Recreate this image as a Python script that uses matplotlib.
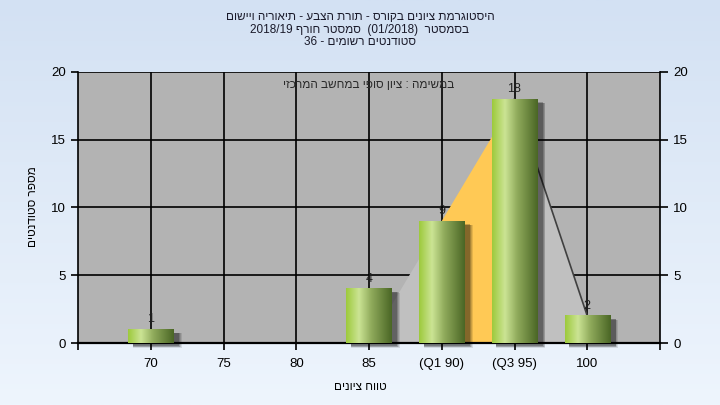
import re
import numpy as np
import matplotlib
matplotlib.use("Agg")
import matplotlib.pyplot as plt
from matplotlib.patches import Rectangle, Polygon
from matplotlib.colors import LinearSegmentedColormap

plt.rcParams['font.family'] = ['Liberation Sans', 'DejaVu Sans']

# data
grades = ['70', '75', '80', '85', '(Q1 90)', '(Q3 95)', '100']
counts = [1, 0, 0, 4, 9, 18, 2]
area_vals = [0, 0, 0, 0, 9, 18, 2]   # the shaded area behind the bars

title_lines = ['היסטוגרמת ציונים בקורס - תורת הצבע - תיאוריה ויישום',
               'בסמסטר  (01/2018)  סמסטר חורף 2018/19',
               'סטודנטים רשומים - 36']
note = 'במשימה : ציון סופי במחשב המרכזי'
xlab = 'טווח ציונים'
ylab = 'מספר סטודנטים'


def rtl(s):
    # crude visual reordering for hebrew text, keeps digit runs left-to-right
    toks = re.findall(r'[0-9A-Za-z/.]+|.', s)
    toks = toks[::-1]
    swap = {'(': ')', ')': '('}
    return ''.join(swap.get(t, t) for t in toks)


fig = plt.figure(figsize=(7.2, 4.05), dpi=100)

# figure background gradient
bg = fig.add_axes([0, 0, 1, 1], zorder=-10)
bg_cmap = LinearSegmentedColormap.from_list('bg', ['#d3e1f3', '#eef5fd'])
bg.imshow(np.linspace(0, 1, 256).reshape(-1, 1), cmap=bg_cmap, aspect='auto',
          extent=[0, 1, 0, 1])
bg.axis('off')

ax = fig.add_axes([78 / 720, 1 - 343 / 405, (660 - 78) / 720, (343 - 72) / 405])
ax.set_facecolor('#b3b3b3')
ax.set_xlim(-1, 7)
ax.set_ylim(0, 20)

x = np.arange(len(grades))

# grid
for yv in [5, 10, 15, 20]:
    ax.axhline(yv, color='black', lw=1.2, zorder=1)
for xv in x:
    ax.axvline(xv, color='black', lw=1.2, zorder=1)

# area behind bars
for i in range(len(x) - 1):
    y0, y1 = area_vals[i], area_vals[i + 1]
    if y0 == 0 and y1 == 0:
        continue
    col = '#ffc955' if (i == 4) else '#c0c0c0'
    poly = Polygon([(x[i], 0), (x[i], y0), (x[i + 1], y1), (x[i + 1], 0)],
                   closed=True, facecolor=col, edgecolor='none', zorder=2)
    ax.add_patch(poly)
ax.plot(x[5:7], area_vals[5:7], color='#404040', lw=1.2, zorder=2.5)

# bars with horizontal gradient and soft shadow
bar_cmap = LinearSegmentedColormap.from_list(
    'bar', [(0, '#9dca3c'), (0.28, '#cbe494'), (0.55, '#90ab5c'), (1, '#4a6625')])
grad = np.linspace(0, 1, 128).reshape(1, -1)
w = 0.62
for xi, c in zip(x, counts):
    if c == 0:
        continue
    for k, a in enumerate([0.10, 0.12, 0.16, 0.22]):
        off = 0.02 + 0.012 * (3 - k)
        sh = Rectangle((xi - w / 2 + 0.06, -0.25 - 0.04 * (3 - k)), w + off, c + 0.03 * (3 - k),
                       facecolor='black', alpha=a, edgecolor='none', zorder=3, clip_on=False)
        ax.add_patch(sh)
    ax.imshow(grad, cmap=bar_cmap, aspect='auto', zorder=4,
              extent=[xi - w / 2, xi + w / 2, 0, c])
    ax.text(xi, c + 0.3, str(c), ha='center', va='bottom', fontsize=9,
            color='#202020', zorder=5)
ax.set_xlim(-1, 7)
ax.set_ylim(0, 20)

ax.text(0.5, 0.975, rtl(note), transform=ax.transAxes, ha='center', va='top',
        fontsize=8.5, color='#2a2a2a', zorder=6)

# axes styling
for s in ['top', 'right']:
    ax.spines[s].set_visible(False)
ax.spines['left'].set_linewidth(1.2)
ax.spines['bottom'].set_linewidth(1.6)
ax.set_xticks(range(-1, 8))
ax.set_xticklabels([''] + grades + [''], fontsize=9)
ax.set_yticks([0, 5, 10, 15, 20])
ax.tick_params(axis='both', length=5, width=1.2, colors='black', labelsize=9.5)
ax.tick_params(axis='x', pad=6)

ax2 = ax.twinx()
ax2.set_ylim(0, 20)
ax2.set_yticks([0, 5, 10, 15, 20])
ax2.tick_params(axis='y', length=6, width=1.2, labelsize=9.5)
for s in ['top', 'left', 'bottom']:
    ax2.spines[s].set_visible(False)
ax2.spines['right'].set_linewidth(1.2)

fig.text(0.5, 1 - 387 / 405, rtl(xlab), ha='center', va='center', fontsize=8.5)
fig.text(33 / 720, 1 - 207 / 405, rtl(ylab), ha='center', va='center',
         rotation=90, fontsize=8.5)
for i, line in enumerate(title_lines):
    fig.text(0.5, 1 - (17 + 12.5 * i) / 405, rtl(line), ha='center', va='center',
             fontsize=8.5, color='#1a1a2a')

fig.savefig('out.png', dpi=100)
